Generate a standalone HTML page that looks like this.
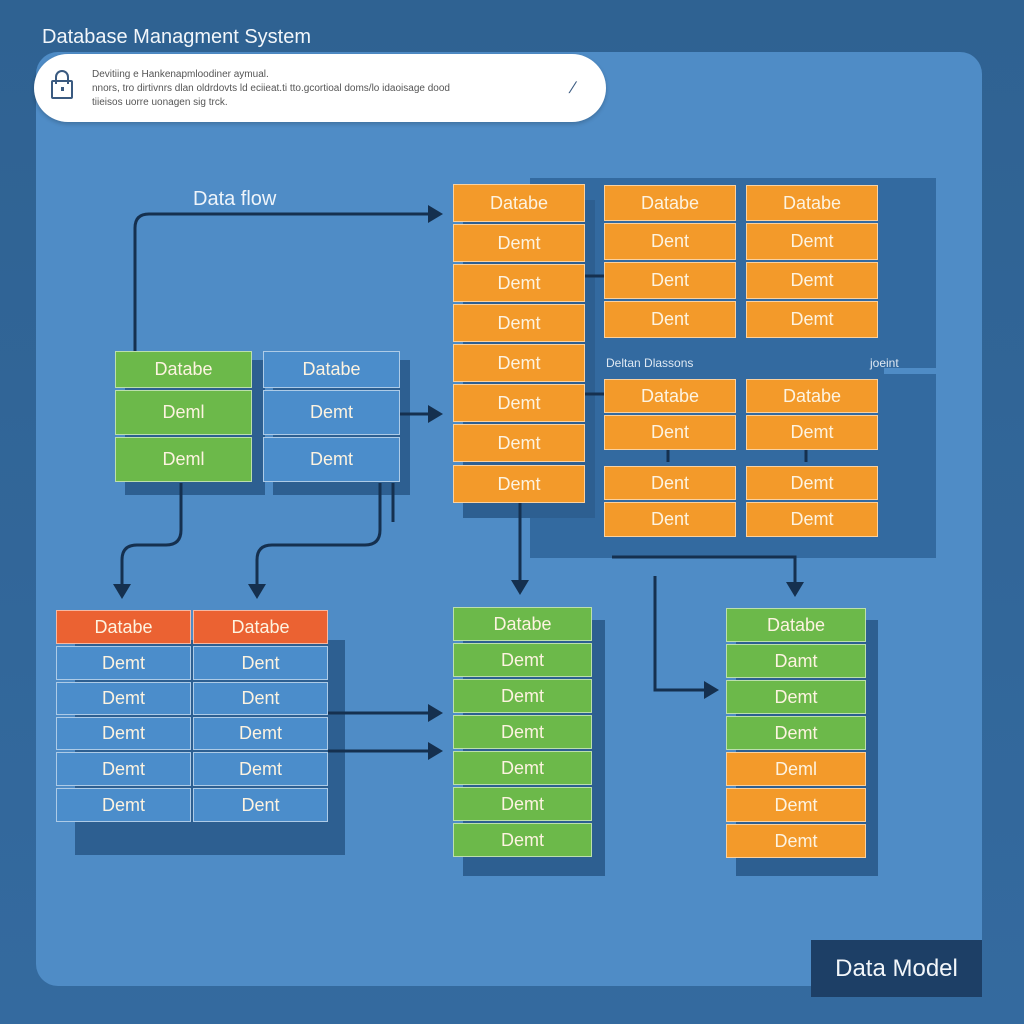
<!DOCTYPE html>
<html><head><meta charset="utf-8"><style>
*{margin:0;padding:0;box-sizing:border-box}
body{width:1024px;height:1024px;overflow:hidden;background:#30649a;font-family:"Liberation Sans",sans-serif;position:relative}
.a{position:absolute}
.c{position:absolute;display:flex;align-items:center;justify-content:center;color:#fdf3e0;font-size:18px;border:1px solid rgba(255,255,255,.55)}
.o{background:#f39a2a}.g{background:#6cb94a}.b{background:#4b8dcb}.r{background:#eb6232}
.sh{position:absolute;background:#2d5f91}
</style></head><body>
<div class="a" style="left:0;top:0;width:1024px;height:1024px;background:linear-gradient(#2f6292,#346a9f)"></div>
<div class="a" style="left:36px;top:52px;width:946px;height:934px;background:#4f8cc6;border-radius:22px"></div>
<div class="a" style="left:42px;top:26px;color:#f2f6fa;font-size:20px">Database Managment System</div>
<div class="a" style="left:34px;top:54px;width:572px;height:68px;background:#fff;border-radius:34px;box-shadow:0 2px 4px rgba(0,0,0,.2)"></div>
<div class="a" style="left:51px;top:70px;width:22px;height:30px">
<div class="a" style="left:4px;top:0;width:14px;height:14px;border:2px solid #3a5a80;border-bottom:none;border-radius:7px 7px 0 0"></div>
<div class="a" style="left:0;top:10px;width:22px;height:19px;border:2px solid #3a5a80;border-radius:2px"></div>
<div class="a" style="left:10px;top:17px;width:3px;height:4px;background:#3a5a80"></div></div>
<div class="a" style="left:92px;top:68px;font-size:10px;line-height:14px;color:#555;white-space:nowrap">Devitiing e Hankenapmloodiner aymual.<br>nnors, tro dirtivnrs dlan oldrdovts ld eciieat.ti tto.gcortioal doms/lo idaoisage dood<br>tiieisos uorre uonagen sig trck.</div>
<div class="a" style="left:570px;top:80px;font-size:16px;color:#3a5a80;transform:skewX(-20deg)">/</div>

<!-- orange panel bg -->
<div class="a" style="left:530px;top:178px;width:406px;height:190px;background:#336aa0"></div>
<div class="a" style="left:530px;top:368px;width:354px;height:8px;background:#336aa0"></div>
<div class="a" style="left:530px;top:374px;width:406px;height:184px;background:#336aa0"></div>
<div class="a" style="left:606px;top:356px;font-size:12px;color:#dfe9f3">Deltan Dlassons</div>
<div class="a" style="left:870px;top:356px;font-size:12px;color:#dfe9f3">joeint</div>

<div class="sh" style="left:75px;top:640px;width:270px;height:215px"></div>
<div class="sh" style="left:125px;top:360px;width:140px;height:135px"></div>
<div class="sh" style="left:273px;top:360px;width:137px;height:135px"></div>
<div class="sh" style="left:463px;top:620px;width:142px;height:256px"></div>
<div class="sh" style="left:736px;top:620px;width:142px;height:256px"></div>
<div class="sh" style="left:463px;top:200px;width:132px;height:318px"></div>

<svg class="a" style="left:0;top:0" width="1024" height="1024">
<defs><marker id="m" markerWidth="6" markerHeight="6" refX="4" refY="3" orient="auto"><path d="M0,0L5,3L0,6z" fill="#15304f"/></marker></defs>
<g stroke="#15304f" stroke-width="3" fill="none" marker-end="url(#m)">
<path d="M135,351V228Q135,214 149,214H440"/>
<path d="M400,414H440"/>
<path d="M181,483V530Q181,545 166,545H137Q122,545 122,560V596"/>
<path d="M380,483V530Q380,545 365,545H272Q257,545 257,560V596"/>
<path d="M328,713H440"/>
<path d="M328,751H440"/>
<path d="M520,503V592"/>
<path d="M612,557H795V594"/>
<path d="M655,576V690H716"/>
</g>
<g stroke="#15304f" stroke-width="3"><path d="M393,483V522"/><path d="M585,276H604"/><path d="M585,394H604"/><path d="M668,450V462"/><path d="M806,450V462"/></g>
</svg>
<div class="a" style="left:193px;top:188px;font-size:20px;color:#eef4fa">Data flow</div>

<!-- big orange -->
<div class="c o" style="left:453px;top:184px;width:132px;height:38px">Databe</div>
<div class="c o" style="left:453px;top:224px;width:132px;height:38px">Demt</div>
<div class="c o" style="left:453px;top:264px;width:132px;height:38px">Demt</div>
<div class="c o" style="left:453px;top:304px;width:132px;height:38px">Demt</div>
<div class="c o" style="left:453px;top:344px;width:132px;height:38px">Demt</div>
<div class="c o" style="left:453px;top:384px;width:132px;height:38px">Demt</div>
<div class="c o" style="left:453px;top:424px;width:132px;height:38px">Demt</div>
<div class="c o" style="left:453px;top:465px;width:132px;height:38px">Demt</div>

<div class="c o" style="left:604px;top:185px;width:132px;height:36px">Databe</div>
<div class="c o" style="left:604px;top:223px;width:132px;height:37px">Dent</div>
<div class="c o" style="left:604px;top:262px;width:132px;height:37px">Dent</div>
<div class="c o" style="left:604px;top:301px;width:132px;height:37px">Dent</div>
<div class="c o" style="left:746px;top:185px;width:132px;height:36px">Databe</div>
<div class="c o" style="left:746px;top:223px;width:132px;height:37px">Demt</div>
<div class="c o" style="left:746px;top:262px;width:132px;height:37px">Demt</div>
<div class="c o" style="left:746px;top:301px;width:132px;height:37px">Demt</div>

<div class="c o" style="left:604px;top:379px;width:132px;height:34px">Databe</div>
<div class="c o" style="left:604px;top:415px;width:132px;height:35px">Dent</div>
<div class="c o" style="left:604px;top:466px;width:132px;height:34px">Dent</div>
<div class="c o" style="left:604px;top:502px;width:132px;height:35px">Dent</div>
<div class="c o" style="left:746px;top:379px;width:132px;height:34px">Databe</div>
<div class="c o" style="left:746px;top:415px;width:132px;height:35px">Demt</div>
<div class="c o" style="left:746px;top:466px;width:132px;height:34px">Demt</div>
<div class="c o" style="left:746px;top:502px;width:132px;height:35px">Demt</div>

<div class="c g" style="left:115px;top:351px;width:137px;height:37px">Databe</div>
<div class="c g" style="left:115px;top:390px;width:137px;height:45px">Deml</div>
<div class="c g" style="left:115px;top:437px;width:137px;height:45px">Deml</div>
<div class="c b" style="left:263px;top:351px;width:137px;height:37px">Databe</div>
<div class="c b" style="left:263px;top:390px;width:137px;height:45px">Demt</div>
<div class="c b" style="left:263px;top:437px;width:137px;height:45px">Demt</div>

<div class="c r" style="left:56px;top:610px;width:135px;height:34px">Databe</div>
<div class="c b" style="left:56px;top:646px;width:135px;height:34px">Demt</div>
<div class="c b" style="left:56px;top:682px;width:135px;height:33px">Demt</div>
<div class="c b" style="left:56px;top:717px;width:135px;height:33px">Demt</div>
<div class="c b" style="left:56px;top:752px;width:135px;height:34px">Demt</div>
<div class="c b" style="left:56px;top:788px;width:135px;height:34px">Demt</div>
<div class="c r" style="left:193px;top:610px;width:135px;height:34px">Databe</div>
<div class="c b" style="left:193px;top:646px;width:135px;height:34px">Dent</div>
<div class="c b" style="left:193px;top:682px;width:135px;height:33px">Dent</div>
<div class="c b" style="left:193px;top:717px;width:135px;height:33px">Demt</div>
<div class="c b" style="left:193px;top:752px;width:135px;height:34px">Demt</div>
<div class="c b" style="left:193px;top:788px;width:135px;height:34px">Dent</div>

<div class="c g" style="left:453px;top:607px;width:139px;height:34px">Databe</div>
<div class="c g" style="left:453px;top:643px;width:139px;height:34px">Demt</div>
<div class="c g" style="left:453px;top:679px;width:139px;height:34px">Demt</div>
<div class="c g" style="left:453px;top:715px;width:139px;height:34px">Demt</div>
<div class="c g" style="left:453px;top:751px;width:139px;height:34px">Demt</div>
<div class="c g" style="left:453px;top:787px;width:139px;height:34px">Demt</div>
<div class="c g" style="left:453px;top:823px;width:139px;height:34px">Demt</div>

<div class="c g" style="left:726px;top:608px;width:140px;height:34px">Databe</div>
<div class="c g" style="left:726px;top:644px;width:140px;height:34px">Damt</div>
<div class="c g" style="left:726px;top:680px;width:140px;height:34px">Demt</div>
<div class="c g" style="left:726px;top:716px;width:140px;height:34px">Demt</div>
<div class="c o" style="left:726px;top:752px;width:140px;height:34px">Deml</div>
<div class="c o" style="left:726px;top:788px;width:140px;height:34px">Demt</div>
<div class="c o" style="left:726px;top:824px;width:140px;height:34px">Demt</div>

<div class="a" style="left:811px;top:940px;width:171px;height:57px;background:#1d3f66;color:#f2f6fa;font-size:24px;display:flex;align-items:center;justify-content:center">Data Model</div>
</body></html>
